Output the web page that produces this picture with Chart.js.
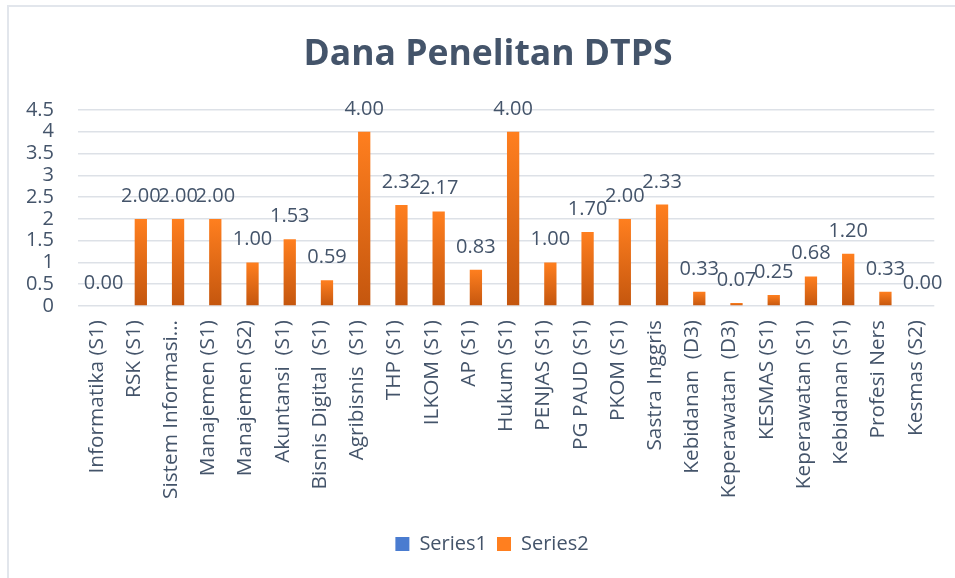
<!DOCTYPE html>
<html>
<head>
<meta charset="utf-8">
<script src="https://cdn.jsdelivr.net/npm/chart.js@4.4.1/dist/chart.umd.min.js"></script>
<style>
  html, body { margin: 0; padding: 0; background: #ffffff; }
  #wrap { position: relative; width: 955px; height: 578px; overflow: hidden; }
  /* light frame around the chart, as in the Excel export */
  #frame {
    position: absolute; left: 7px; top: 5px; width: 960px; height: 600px;
    border-left: 2px solid #E2E6EC; border-top: 2px solid #E2E6EC;
  }
  #chart { position: absolute; left: 0; top: 0; }
</style>
</head>
<body>
<div id="wrap">
  <div id="frame"></div>
  <canvas id="chart" width="955" height="578"></canvas>
</div>
<script>
// Study programmes (x-axis categories)
const programs = [
    'Informatika (S1)', 'RSK (S1)', 'Sistem Informasi…', 'Manajemen (S1)',
    'Manajemen (S2)', 'Akuntansi  (S1)', 'Bisnis Digital  (S1)', 'Agribisnis  (S1)',
    'THP (S1)', 'ILKOM (S1)', 'AP (S1)', 'Hukum (S1)', 'PENJAS (S1)',
    'PG PAUD (S1)', 'PKOM (S1)', 'Sastra Inggris', 'Kebidanan  (D3)',
    'Keperawatan  (D3)', 'KESMAS (S1)', 'Keperawatan (S1)', 'Kebidanan (S1)',
    'Profesi Ners', 'Kesmas (S2)'
];

// Series1 is empty in the source (all zero)
const series1 = [0, 0, 0, 0, 0, 0, 0, 0, 0, 0, 0, 0, 0, 0, 0, 0, 0, 0, 0, 0, 0, 0, 0];

// Series2 - research funding values
const series2 = [0.00, 2.00, 2.00, 2.00, 1.00, 1.53, 0.59, 4.00, 2.32, 2.17, 0.83, 4.00,
    1.00, 1.70, 2.00, 2.33, 0.33, 0.07, 0.25, 0.68, 1.20, 0.33, 0.00];

const yTicks = [0, 0.5, 1, 1.5, 2, 2.5, 3, 3.5, 4, 4.5];

const TEXT_COLOR = '#44546A';
const GRID_COLOR = '#DDE1E7';
const FONT = "'Open Sans', 'Noto Sans', sans-serif";

// Vertical gradient for each bar, from its top down to the zero line
const barGradient = (topColor, bottomColor) => (context) => {
    const chart = context.chart;
    if (!chart.chartArea || context.dataIndex === undefined) return topColor;
    const yScale = chart.scales.y;
    const value = context.raw || 0;
    const yTop = yScale.getPixelForValue(value);
    const yBase = yScale.getPixelForValue(0);
    if (Math.abs(yBase - yTop) < 1) return topColor;
    const g = chart.ctx.createLinearGradient(0, yTop, 0, yBase);
    g.addColorStop(0, topColor);
    g.addColorStop(1, bottomColor);
    return g;
};

// Value labels above the Series2 bars
const valueLabels = {
    id: 'valueLabels',
    afterDatasetsDraw(chart) {
        const ctx = chart.ctx;
        const meta = chart.getDatasetMeta(1);
        ctx.save();
        ctx.font = `20px ${FONT}`;
        ctx.fillStyle = TEXT_COLOR;
        ctx.textAlign = 'center';
        ctx.textBaseline = 'alphabetic';
        meta.data.forEach((bar, i) => {
            ctx.fillText(series2[i].toFixed(2), bar.x, bar.y - 17);
        });
        ctx.restore();
    }
};

// Excel centres title and legend on the whole chart, not just the plot; nudge them right
const centreShift = {
    id: 'centreShift',
    afterLayout(chart) {
        if (chart.legend) chart.legend.left += 38;
        if (chart.titleBlock) chart.titleBlock.left += 30;
    }
};

const ctx = document.getElementById('chart').getContext('2d');

new Chart(ctx, {
    type: 'bar',
    data: {
        labels: programs,
        datasets: [
            {
                label: 'Series1',
                data: series1,
                backgroundColor: barGradient('#4A7CD0', '#2A4F96'),
                borderWidth: 0
            },
            {
                label: 'Series2',
                data: series2,
                backgroundColor: barGradient('#FF7F1F', '#C4560E'),
                borderWidth: 0
            }
        ]
    },
    options: {
        responsive: false,
        animation: false,
        categoryPercentage: 0.75,
        barPercentage: 0.88,
        layout: {
            padding: { left: 8, right: 17, top: 0, bottom: 14 }
        },
        scales: {
            x: {
                grid: { display: false, drawTicks: false },
                border: { display: false },
                ticks: {
                    color: TEXT_COLOR,
                    font: { family: FONT, size: 20.8 },
                    minRotation: 90,
                    maxRotation: 90,
                    autoSkip: false,
                    padding: 14
                },
                afterFit: (scale) => { scale.height = 218; }
            },
            y: {
                min: 0,
                max: 4.5,
                afterBuildTicks: (scale) => {
                    scale.ticks = yTicks.map(v => ({ value: v }));
                },
                grid: { color: GRID_COLOR, lineWidth: 1.6, drawTicks: false },
                border: { display: false },
                ticks: {
                    color: TEXT_COLOR,
                    font: { family: FONT, size: 20 },
                    padding: 24,
                    autoSkip: false,
                    callback: (value) => `${value}`
                },
                afterFit: (scale) => { scale.width = 70; }
            }
        },
        plugins: {
            title: {
                display: true,
                text: 'Dana Penelitan DTPS',
                color: TEXT_COLOR,
                font: { family: FONT, size: 35.5, weight: 'bold', lineHeight: 1.2 },
                padding: { top: 34, bottom: 33.4 }
            },
            legend: {
                position: 'bottom',
                labels: {
                    color: TEXT_COLOR,
                    font: { family: FONT, size: 20 },
                    boxWidth: 14,
                    boxHeight: 14,
                    padding: 10
                }
            },
            tooltip: { enabled: false }
        }
    },
    plugins: [valueLabels, centreShift]
});
</script>
</body>
</html>
